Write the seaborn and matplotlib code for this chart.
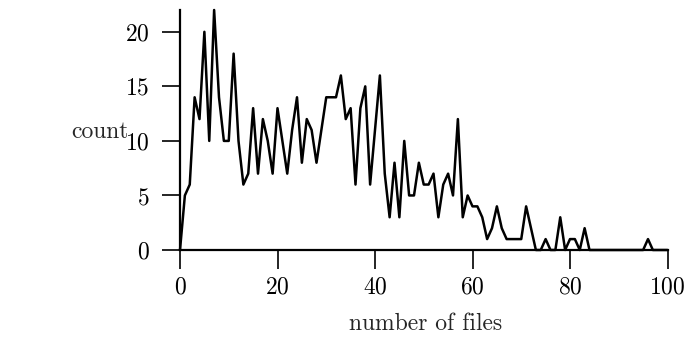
import matplotlib
matplotlib.use("Agg")
import matplotlib.pyplot as plt
import seaborn as sns
import pandas as pd

files = list(range(0, 101))
counts = [0, 5, 6, 14, 12, 20, 10, 22, 14, 10,
          10, 18, 10, 6, 7, 13, 7, 12, 10, 7,
          13, 10, 7, 11, 14, 8, 12, 11, 8, 11,
          14, 14, 14, 16, 12, 13, 6, 13, 15, 6,
          11, 16, 7, 3, 8, 3, 10, 5, 5, 8,
          6, 6, 7, 3, 6, 7, 5, 12, 3, 5,
          4, 4, 3, 1, 2, 4, 2, 1, 1, 1,
          1, 4, 2, 0, 0, 1, 0, 0, 3, 0,
          1, 1, 0, 2, 0, 0, 0, 0, 0, 0,
          0, 0, 0, 0, 0, 0, 1, 0, 0, 0,
          0]
xticks = [0, 20, 40, 60, 80, 100]
yticks = [0, 5, 10, 15, 20]
xlabel = "number of files"
ylabel = "count"

df = pd.DataFrame({"files": files, "count": counts})

sns.set_style("ticks")
plt.rcParams["font.family"] = ["cmr10", "DejaVu Serif"]
plt.rcParams["axes.formatter.use_mathtext"] = True

fig = plt.figure(figsize=(6.96, 3.46), dpi=100)
ax = fig.add_axes([180 / 696, 96 / 346, 487.5 / 696, 240 / 346])
sns.lineplot(data=df, x="files", y="count", ax=ax, color="black",
             linewidth=1.8, clip_on=False)

ax.set_xlim(0, 100)
ax.set_ylim(0, 22)
ax.set_xticks(xticks)
ax.set_yticks(yticks)
sns.despine(ax=ax)
for s in ("left", "bottom"):
    ax.spines[s].set_linewidth(1.6)
    ax.spines[s].set_color("black")
ax.tick_params(axis="x", direction="out", length=14, width=1.2,
               pad=5, labelsize=17, colors="black")
ax.tick_params(axis="y", direction="out", length=13, width=1.2,
               pad=9, labelsize=17, colors="black")

ax.set_xlabel(xlabel, fontsize=17)
ax.set_ylabel(ylabel, fontsize=17, rotation=0)
ax.xaxis.set_label_coords(0.503, -0.31)
ax.xaxis.label.set_va("center")
ax.yaxis.set_label_coords(-0.165, 0.49)
ax.yaxis.label.set_va("center")
ax.yaxis.label.set_ha("center")

fig.savefig("out.png", dpi=100)
